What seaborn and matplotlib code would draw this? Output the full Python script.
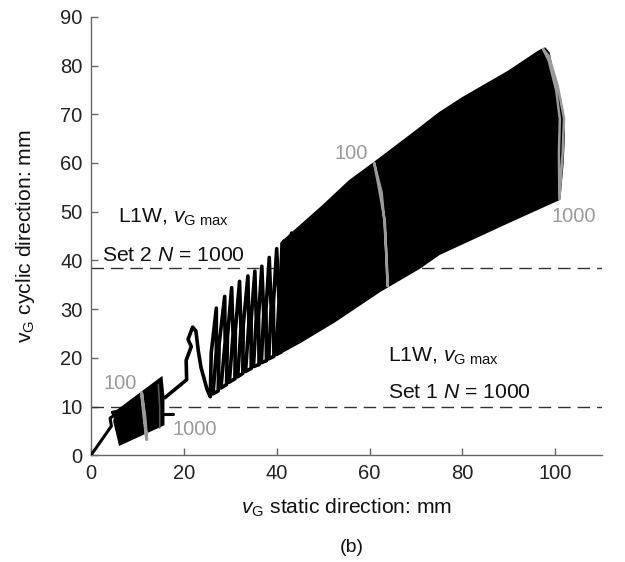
import matplotlib
matplotlib.use("Agg")
import matplotlib.pyplot as plt
import seaborn as sns

# ---------------- data ----------------
# initial path from origin into the Set 1 cluster
start_x = [0.0, 4.4, 4.1, 5.0, 4.6, 5.5]
start_y = [0.0, 6.0, 7.6, 8.2, 8.8, 9.0]

# Set 1 dense cluster outline
set1_x = [5.5, 15.2, 15.6, 15.6, 6.2, 5.0]
set1_y = [9.0, 15.9, 12.0, 6.3, 2.2, 7.0]
set1_tail_x = [15.6, 17.7]
set1_tail_y = [8.4, 8.4]
set1_g100_x = [10.9, 11.4, 12.0, 11.6, 10.9]
set1_g100_y = [12.8, 8.0, 3.2, 8.0, 12.8]
set1_g1000_x = [14.5, 14.8, 14.8]
set1_g1000_y = [14.5, 10.0, 5.6]

# transition path and the sparse loops between Set 1 and Set 2
loop_x = [15.9, 20.6, 20.5, 21.6, 20.9, 21.9, 22.6, 23.1, 23.7, 25.0,
          25.7, 25.9, 27.0, 27.0, 26.3,
          27.4, 27.6, 28.8, 28.9, 28.0,
          29.2, 29.4, 30.3, 30.6, 29.8,
          31.0, 31.1, 32.0, 32.3, 31.6,
          32.7, 32.8, 33.8, 34.0, 33.3,
          34.5, 34.5, 35.3, 35.6, 35.0,
          36.2, 36.1, 36.8, 37.2, 36.7,
          37.8, 37.7, 38.4, 38.8, 38.3,
          39.4, 39.3, 40.0, 40.5, 39.9,
          41.0, 41.0, 41.6, 42.1, 41.6,
          42.6, 43.2]
loop_y = [11.8, 15.5, 19.5, 22.3, 23.8, 26.3, 25.5, 21.5, 18.0, 13.5,
          12.0, 21.0, 30.2, 21.5, 12.6,
          13.2, 22.8, 32.6, 23.3, 13.8,
          14.5, 24.3, 34.4, 24.8, 15.0,
          15.7, 25.6, 35.7, 26.0, 16.1,
          16.8, 26.7, 36.8, 27.1, 17.2,
          17.8, 27.7, 37.8, 28.1, 18.2,
          18.6, 28.6, 38.8, 29.0, 19.0,
          19.4, 29.9, 40.6, 30.3, 19.8,
          20.3, 31.2, 42.4, 31.6, 20.7,
          21.2, 32.5, 44.0, 33.0, 21.7,
          22.2, 45.6]

# Set 2 dense band outline (upper edge, right edge, lower edge)
band_x = [41.0, 43.0, 50.0, 55.7, 61.0, 70.0, 75.0, 80.0, 90.0, 96.6, 97.8,
          98.6, 99.8, 101.5, 101.9, 101.6, 100.9, 90.0, 75.0, 70.8, 62.2,
          52.5, 45.0, 40.0]
band_y = [43.6, 45.3, 51.2, 56.3, 60.0, 66.5, 70.2, 73.3, 78.8, 83.0, 83.5,
          82.6, 77.0, 71.0, 66.0, 60.0, 52.6, 47.9, 41.3, 38.5, 33.7,
          27.5, 23.2, 20.6]

# gray marker cycles (N = 100 and N = 1000) in Set 2
g100_x = [61.0, 62.6, 63.2, 63.7, 63.9, 63.3, 62.0, 61.0]
g100_y = [60.0, 54.0, 48.0, 40.0, 34.7, 48.0, 55.0, 60.0]
g1000_x = [97.4, 98.6, 100.5, 101.9, 101.6, 100.9, 100.8, 101.0, 100.2, 98.6, 97.4]
g1000_y = [83.4, 82.0, 76.0, 69.2, 62.0, 52.6, 62.0, 69.0, 75.0, 81.0, 83.4]

limit_set2 = 38.5
limit_set1 = 10.0

xticks = [0, 20, 40, 60, 80, 100]
yticks = [0, 10, 20, 30, 40, 50, 60, 70, 80, 90]

# ---------------- style ----------------
sns.set_theme(style="white")
plt.rcParams['font.family'] = ['Liberation Sans', 'DejaVu Sans']
plt.rcParams['mathtext.fontset'] = 'custom'
plt.rcParams['mathtext.rm'] = 'Liberation Sans'
plt.rcParams['mathtext.it'] = 'Liberation Sans:italic'
plt.rcParams['mathtext.sf'] = 'Liberation Sans'

fig = plt.figure(figsize=(6.25, 5.62), dpi=100)
ax = fig.add_axes([0.1456, 0.190, 0.817, 0.780])

black = '#000000'
gray = '#9a9a9a'
line_kw = dict(sort=False, estimator=None, ax=ax)

ax.fill(band_x, band_y, color=black, lw=1.5, ec=black, joinstyle='round', zorder=2)
ax.fill(set1_x, set1_y, color=black, lw=1.5, ec=black, zorder=2)
sns.lineplot(x=start_x, y=start_y, color=black, lw=2.2, zorder=3, **line_kw)
sns.lineplot(x=loop_x, y=loop_y, color=black, lw=2.6, zorder=3,
             solid_joinstyle='round', solid_capstyle='round', **line_kw)
sns.lineplot(x=set1_tail_x, y=set1_tail_y, color=black, lw=2.2, zorder=3, **line_kw)
sns.lineplot(x=g100_x, y=g100_y, color=gray, lw=1.8, zorder=4, **line_kw)
sns.lineplot(x=g1000_x, y=g1000_y, color=gray, lw=1.8, zorder=4, **line_kw)
sns.lineplot(x=set1_g100_x, y=set1_g100_y, color=gray, lw=2.2, zorder=4, **line_kw)
sns.lineplot(x=set1_g1000_x, y=set1_g1000_y, color='#555555', lw=1.2, zorder=4, **line_kw)

ax.axhline(limit_set2, color='#333333', lw=1.0, dashes=(9, 5), zorder=1)
ax.axhline(limit_set1, color='#333333', lw=1.0, dashes=(9, 5), zorder=1)

fs = 15.2
tc = '#111111'
ax.text(17.8, 47.7, r'L1W, $v_{\mathrm{G\ max}}$', fontsize=fs, va='baseline', ha='center', color=tc)
ax.text(17.8, 39.8, r'Set 2 $N$ = 1000', fontsize=fs, va='baseline', ha='center', color=tc)
ax.text(63.9, 19.3, r'L1W, $v_{\mathrm{G\ max}}$', fontsize=fs, va='baseline', ha='left', color=tc)
ax.text(63.9, 11.8, r'Set 1 $N$ = 1000', fontsize=fs, va='baseline', ha='left', color=tc)

gfs = 14.5
ax.text(56.1, 62.0, '100', fontsize=gfs, color=gray, ha='center', va='center')
ax.text(104.0, 49.0, '1000', fontsize=gfs, color=gray, ha='center', va='center')
ax.text(6.2, 14.8, '100', fontsize=gfs, color=gray, ha='center', va='center')
ax.text(22.4, 5.3, '1000', fontsize=gfs, color=gray, ha='center', va='center')

ax.set_xlim(0, 110)
ax.set_ylim(0, 90)
ax.set_xticks(xticks)
ax.set_yticks(yticks)
for s in ['top', 'right']:
    ax.spines[s].set_visible(False)
for s in ['left', 'bottom']:
    ax.spines[s].set_color('#666666')
    ax.spines[s].set_linewidth(1.0)
ax.tick_params(direction='in', length=5, width=1.0, color='#666666',
               labelsize=14.5, labelcolor='#222222', pad=6,
               bottom=True, left=True)

ax.set_xlabel(r'$v_{\mathrm{G}}$ static direction: mm', fontsize=15.2, color=tc, labelpad=10)
ax.set_ylabel(r'v$_{\mathrm{G}}$ cyclic direction: mm', fontsize=15.2, color=tc, labelpad=17)
fig.text(0.563, 0.025, '(b)', fontsize=14, ha='center', va='center', color=tc)

fig.savefig('out.png', dpi=100)
